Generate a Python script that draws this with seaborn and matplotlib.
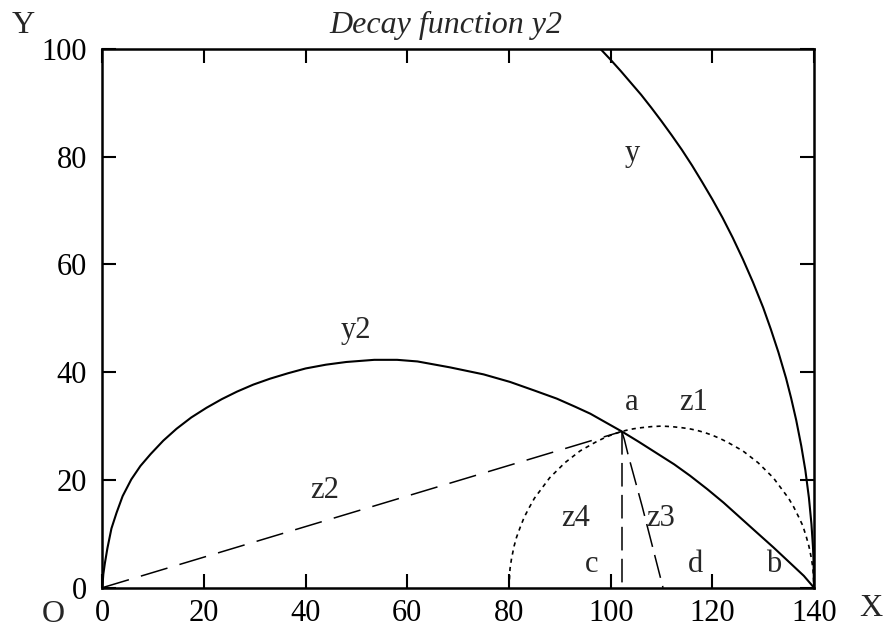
import matplotlib
matplotlib.use("Agg")
import matplotlib.pyplot as plt
import seaborn as sns

# Outer arc y
y_x = [98.0, 100.0, 102.0, 104.0, 106.0, 108.0, 110.0, 112.0, 114.0, 116.0,
       118.0, 120.0, 122.0, 124.0, 126.0, 128.0, 130.0, 131.5, 133.0, 134.5,
       135.5, 136.5, 137.5, 138.3, 139.0, 139.5, 139.8, 139.9, 140.0]
y_v = [100.0, 98.0, 95.9, 93.7, 91.5, 89.1, 86.6, 84.0, 81.3, 78.4,
       75.3, 72.1, 68.7, 65.0, 61.0, 56.7, 52.0, 48.0, 43.7, 38.9,
       35.2, 31.1, 26.3, 21.8, 16.7, 11.8, 7.5, 5.3, 0.0]

# Decay curve y2
y2_x = [0.0, 0.2, 0.5, 1.0, 1.8, 2.8, 4.0, 5.7, 7.5, 9.5, 12.0, 14.6, 17.5,
        20.5, 23.5, 26.5, 29.7, 33.0, 36.5, 40.0, 44.0, 48.0, 53.5, 58.0,
        62.0, 68.4, 75.0, 80.2, 85.0, 89.4, 93.0, 96.0, 99.0, 102.2, 105.5,
        109.0, 112.5, 115.6, 119.0, 122.2, 125.5, 128.8, 132.0, 135.4, 138.0,
        140.0]
y2_v = [0.0, 2.5, 4.5, 7.3, 11.0, 13.9, 17.0, 20.1, 22.6, 24.8, 27.3, 29.5, 31.6,
        33.4, 35.0, 36.4, 37.7, 38.8, 39.8, 40.7, 41.4, 41.9, 42.3, 42.3,
        42.0, 40.9, 39.6, 38.2, 36.6, 35.1, 33.6, 32.3, 30.7, 29.0, 27.1,
        25.0, 22.9, 20.8, 18.3, 15.8, 13.0, 10.2, 7.5, 4.5, 2.2,
        0.0]

# Dotted half circle z1
z1_x = [80.0, 80.2, 80.5, 81.0, 81.5, 82.2, 83.0, 84.0, 85.0, 86.5, 88.0, 89.5,
        91.0, 92.5, 94.0, 95.5, 97.0, 98.5, 100.0, 101.5, 103.0, 104.5, 106.0,
        108.0, 110.0, 112.0, 114.0, 115.5, 117.0, 118.5, 120.0, 121.5, 123.0,
        124.5, 126.0, 127.5, 129.0, 130.5, 132.0, 133.5, 135.0, 136.0, 137.0,
        137.8, 138.5, 139.0, 139.5, 139.8, 140.0]
z1_v = [0.0, 3.5, 5.4, 7.7, 9.4, 11.2, 13.1, 14.9, 16.6, 18.5, 20.4, 21.8,
        23.2, 24.3, 25.4, 26.2, 27.0, 27.7, 28.3, 28.8, 29.2, 29.5, 29.7,
        29.9, 30.0, 29.9, 29.7, 29.5, 29.2, 28.8, 28.3, 27.7, 27.0,
        26.2, 25.4, 24.3, 23.2, 21.8, 20.4, 18.5, 16.6, 15.0, 13.1,
        11.5, 9.4, 7.7, 5.4, 3.5, 0.0]

# Chord z2 from the origin to point a
z2_x = [0.0, 102.2]
z2_v = [0.0, 29.0]

# Line z3 from point a down to the axis
z3_x = [102.2, 102.7, 103.4, 106.2, 110.3]
z3_v = [29.0, 27.5, 24.8, 15.1, 0.0]

# Vertical z4 under point a
z4_x = [102.2, 102.2]
z4_v = [29.0, 0.0]

x_ticks = [0, 20, 40, 60, 80, 100, 120, 140]
y_ticks = [0, 20, 40, 60, 80, 100]

# Curve and point names
names = ["y", "y2", "a", "z1", "z2", "z3", "z4", "b", "c", "d"]
name_x = [104.2, 49.9, 104.2, 116.3, 43.7, 109.9, 93.2, 132.1, 96.3, 116.7]
name_y = [79.3, 46.4, 33.0, 33.0, 16.6, 11.4, 11.4, 3.0, 3.0, 3.0]

sns.set_theme(style="white")
plt.rcParams.update({
    "font.family": ["Liberation Serif", "DejaVu Serif"],
    "font.size": 22,
    "lines.scale_dashes": False,
    "axes.edgecolor": "black",
    "axes.linewidth": 1.8,
    "xtick.color": "black", "ytick.color": "black",
    "xtick.labelcolor": "black", "ytick.labelcolor": "black",
    "xtick.direction": "in", "ytick.direction": "in",
    "xtick.bottom": True, "xtick.top": True,
    "ytick.left": True, "ytick.right": True,
    "xtick.major.size": 10, "ytick.major.size": 10,
    "xtick.major.width": 1.5, "ytick.major.width": 1.5,
    "xtick.major.pad": 8, "ytick.major.pad": 11,
    "xtick.labelsize": 22, "ytick.labelsize": 22,
})

fig = plt.figure(figsize=(8.85, 6.3), dpi=100)
ax = fig.add_axes([102.3 / 885, 42.3 / 630, 711.7 / 885, 538.7 / 630])

common = dict(sort=False, estimator=None, color="black", ax=ax)
sns.lineplot(x=y_x, y=y_v, lw=1.5, **common)
sns.lineplot(x=y2_x, y=y2_v, lw=1.5, **common)
sns.lineplot(x=z1_x, y=z1_v, lw=1.2, linestyle=(0, (3, 3)), **common)
sns.lineplot(x=z2_x, y=z2_v, lw=1.1, linestyle=(0, (20, 9)), **common)
sns.lineplot(x=z3_x, y=z3_v, lw=1.1, linestyle=(0, (17, 6)), **common)
sns.lineplot(x=z4_x, y=z4_v, lw=1.1, linestyle=(0, (17, 6)), **common)

ax.set_xlim(0, 140)
ax.set_ylim(0, 100)
ax.set_xticks(x_ticks)
ax.set_yticks(y_ticks)
ax.set_xticklabels([str(t) for t in x_ticks])
ax.set_yticklabels([str(t) for t in y_ticks])
ax.set_xlabel("")
ax.set_ylabel("")
for side in ax.spines.values():
    side.set_visible(True)
    side.set_color("black")
    side.set_linewidth(1.8)

for t, tx, ty in zip(names, name_x, name_y):
    ax.text(tx, ty, t, ha="center", va="baseline", fontsize=22)

fig.text(446 / 885, 1 - 33 / 630, "Decay function y2", ha="center",
         va="baseline", fontsize=23, style="italic")
fig.text(23 / 885, 1 - 33 / 630, "Y", ha="center", va="baseline", fontsize=23)
fig.text(871 / 885, 14 / 630, "X", ha="center", va="baseline", fontsize=23)
fig.text(53 / 885, 0.5 / 630, "O", ha="center", va="bottom", fontsize=23)

fig.savefig("out.png", dpi=100)
